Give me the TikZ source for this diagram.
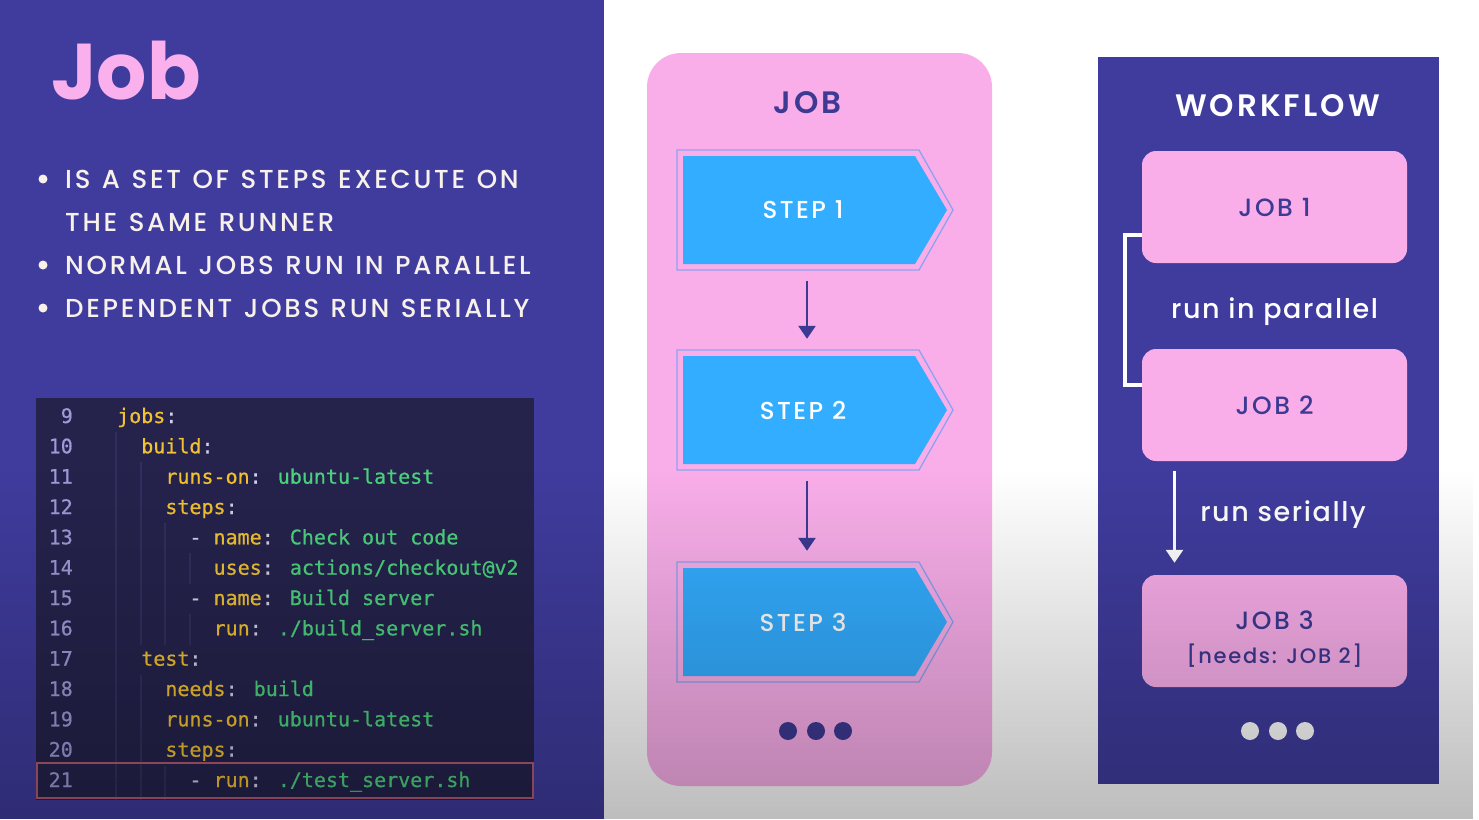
\documentclass[tikz,border=0pt]{standalone}
\usepackage{fontspec}
\usetikzlibrary{fadings,calc,arrows.meta}
\setmainfont{Poppins}
\IfFontExistsTF{Poppins Medium}{\newfontfamily\medfont{Poppins Medium}}{\newfontfamily\medfont{Poppins}}
\IfFontExistsTF{Poppins SemiBold}{\newfontfamily\semifont{Poppins SemiBold}}{\newfontfamily\semifont{Poppins}[FakeBold=1]}
\newfontfamily\codefont{DejaVu Sans Mono}[FakeBold=0.7]

\definecolor{indigo}{HTML}{403C9E}
\definecolor{pinkpanel}{HTML}{F9AEEA}
\definecolor{titlepink}{HTML}{FBB0EE}
\definecolor{inktext}{HTML}{3D3A93}
\definecolor{stepblue}{HTML}{33ADFF}
\definecolor{stepline}{HTML}{8CA2F0}
\definecolor{codebg}{HTML}{25234C}
\definecolor{codeguide}{HTML}{312F5E}
\definecolor{codekey}{HTML}{F2C232}
\definecolor{codeval}{HTML}{4CD27E}
\definecolor{codepun}{HTML}{D4D2EA}
\definecolor{codenum}{HTML}{A09AD8}
\definecolor{hiline}{HTML}{B55A70}
\definecolor{creamtext}{HTML}{F7F1EA}

\newcommand\ck[1]{\textcolor{codekey}{#1}}
\newcommand\cv[1]{\textcolor{codeval}{#1}}
\newcommand\cp[1]{\textcolor{codepun}{#1}}
\newcommand\us{\symbol{95}}
% bullet lines: medium weight, tracked capitals, wide word gaps
\newcommand\bulletfont{\medfont\fontsize{26}{30}\selectfont
  \addfontfeature{LetterSpace=10.5}\spaceskip=11.5pt\relax}

\tikzfading[name=darkdown, top color=transparent!100, bottom color=transparent!0]

\tikzset{
  bullettext/.style={inner sep=0, text=creamtext, anchor=base west, font=\bulletfont},
  bulletdot/.style={circle, fill=creamtext, inner sep=0, minimum size=9},
  numtext/.style={inner sep=0, text=codenum, anchor=base east,
    font=\codefont\fontsize{20}{24}\selectfont},
  codetext/.style={inner sep=0, anchor=base west,
    font=\codefont\fontsize{20}{24}\selectfont},
  stepnode/.style={inner sep=0, minimum width=232, minimum height=108, text=white,
    font=\medfont\fontsize{24.5}{28}\selectfont\addfontfeature{LetterSpace=10}},
  steparrow/.style={draw=inktext, line width=2.6, -{Triangle[width=17,length=13]},
    shorten <=17, shorten >=17},
  jobbox/.style={rounded corners=14, fill=pinkpanel, minimum width=265,
    minimum height=112, inner sep=0, text=inktext,
    font=\medfont\fontsize{25}{28}\selectfont\addfontfeature{LetterSpace=10}},
  paneltitle/.style={inner sep=0, anchor=base,
    font=\semifont\fontsize{31}{34}\selectfont\addfontfeature{LetterSpace=10}},
  flowlabel/.style={inner sep=0, anchor=base, text=white,
    font=\medfont\fontsize{27}{30}\selectfont\addfontfeature{LetterSpace=6}},
  dot/.style={circle, inner sep=0, minimum size=18},
}

\newcommand\codeline[4]{%
  \node[numtext] (num#1) at (73,#2) {#1};
  \node[codetext] (code#1) at (#3,#2) {#4};}

\begin{document}
\begin{tikzpicture}[x=1pt, y=-1pt]
\useasboundingbox (0,0) rectangle (1479,819);
\fill[white] (0,0) rectangle (1479,819);

% ---------- left panel ----------
\fill[indigo] (0,0) rectangle (604,819);
\node[inner sep=0, anchor=base west, text=titlepink,
      font=\bfseries\fontsize{79}{80}\selectfont] (title) at (51,99) {Job};

\node[bulletdot] (d1) at (43,179) {};
\node[bullettext] (b1) at (65,188) {IS A SET OF STEPS EXECUTE ON};
\node[bullettext] (b2) at (65,231) {THE SAME RUNNER};
\node[bulletdot] (d3) at (43,265) {};
\node[bullettext] (b3) at (65,274) {NORMAL JOBS RUN IN PARALLEL};
\node[bulletdot] (d4) at (43,308) {};
\node[bullettext] (b4) at (65,317) {DEPENDENT JOBS RUN SERIALLY};

% code listing
\fill[codebg] (36,398) rectangle (534,800);
\begin{scope}[codeguide, line width=1.2]
  \draw (116,432) -- (116,800);
  \draw (141,462) -- (141,645);
  \draw (141,675) -- (141,800);
  \draw (165,523) -- (165,645);
  \draw (165,766) -- (165,800);
  \draw (190,553) -- (190,584);
  \draw (190,614) -- (190,645);
\end{scope}
\draw[hiline, line width=1.6] (37,763) rectangle (533,798);

\codeline{9}{423}{117}{\ck{jobs}\cp{:}}
\codeline{10}{453.3}{141.1}{\ck{build}\cp{:}}
\codeline{11}{483.7}{165.2}{\ck{runs-on}\cp{:} \cv{ubuntu-latest}}
\codeline{12}{514}{165.2}{\ck{steps}\cp{:}}
\codeline{13}{544.3}{189.3}{\cp{-} \ck{name}\cp{:} \cv{Check out code}}
\codeline{14}{574.7}{213.4}{\ck{uses}\cp{:} \cv{actions/checkout@v2}}
\codeline{15}{605}{189.3}{\cp{-} \ck{name}\cp{:} \cv{Build server}}
\codeline{16}{635.3}{213.4}{\ck{run}\cp{:} \cv{./build\us server.sh}}
\codeline{17}{665.7}{141.1}{\ck{test}\cp{:}}
\codeline{18}{696}{165.2}{\ck{needs}\cp{:} \cv{build}}
\codeline{19}{726.3}{165.2}{\ck{runs-on}\cp{:} \cv{ubuntu-latest}}
\codeline{20}{756.7}{165.2}{\ck{steps}\cp{:}}
\codeline{21}{787}{189.3}{\cp{-} \ck{run}\cp{:} \cv{./test\us server.sh}}

% ---------- job panel ----------
\node[rounded corners=34, fill=pinkpanel, minimum width=345, minimum height=733,
      inner sep=0] (jobpanel) at (819.5,419.5) {};
\node[paneltitle, text=inktext] (jobtitle) at (807.5,113) {JOB};

\foreach \yy in {210,410,622}{
  \draw[stepline, line width=1.3] (677,\yy-60) -- (919,\yy-60) -- (953,\yy)
     -- (919,\yy+60) -- (677,\yy+60) -- cycle;
  \fill[stepblue] (683,\yy-54) -- (915,\yy-54) -- (947,\yy)
     -- (915,\yy+54) -- (683,\yy+54) -- cycle;
}
\node[stepnode] (s1) at (803,210) {STEP 1};
\node[stepnode] (s2) at (803,410) {STEP 2};
\node[stepnode] (s3) at (803,622) {STEP 3};
\draw[steparrow] ([xshift=4pt]s1.south) -- ([xshift=4pt]s2.north);
\draw[steparrow] ([xshift=4pt]s2.south) -- ([xshift=4pt]s3.north);

\node[dot, fill=inktext] (jd1) at (788,731) {};
\node[dot, fill=inktext] (jd2) at (816,731) {};
\node[dot, fill=inktext] (jd3) at (843,731) {};

% ---------- workflow panel ----------
\fill[indigo] (1098,57) rectangle (1439,784);
\node[paneltitle, text=white] (wftitle) at (1277.5,116) {WORKFLOW};

\node[jobbox] (j1) at (1274.5,207) {JOB 1};
\node[jobbox] (j2) at (1274.5,405) {JOB 2};
\node[jobbox] (j3) at (1274.5,631) {};
\node[inner sep=0, anchor=base, text=inktext,
      font=\medfont\fontsize{25}{28}\selectfont\addfontfeature{LetterSpace=10}]
      (j3name) at (1274.5,629) {JOB 3};
\node[inner sep=0, anchor=base, text=inktext,
      font=\medfont\fontsize{21}{24}\selectfont\addfontfeature{LetterSpace=8}]
      (j3needs) at (1274.5,663) {[needs: JOB 2]};

\draw[white, line width=4] ([yshift=-28pt]j1.west) -- ++(-17,0)
      |- ([yshift=20pt]j2.west);
\node[flowlabel] (parallel) at (1274.5,318) {run in parallel};

\draw[white, line width=2.6, -{Triangle[width=17,length=13]}]
      ([xshift=-100pt, yshift=-10pt]j2.south) -- ([xshift=-100pt, yshift=12pt]j3.north);
\node[flowlabel] (serially) at (1283,521) {run serially};

\node[dot, fill=white] (wd1) at (1250,731) {};
\node[dot, fill=white] (wd2) at (1278,731) {};
\node[dot, fill=white] (wd3) at (1305,731) {};

% soft darkening towards the bottom edge
\fill[black, fill opacity=0.26, path fading=darkdown] (0,470) rectangle (1479,819);
\end{tikzpicture}
\end{document}
